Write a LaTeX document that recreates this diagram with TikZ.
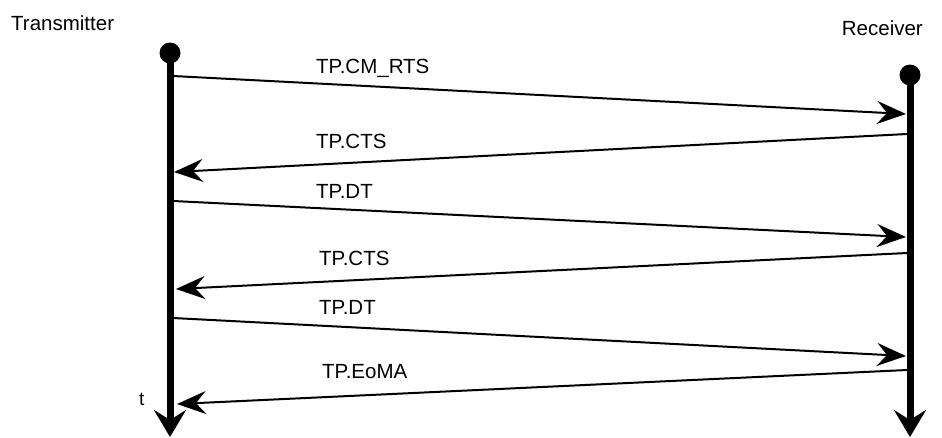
\documentclass[tikz,border=0pt]{standalone}
\usepackage{fontspec}
\setmainfont{Liberation Sans}
\usetikzlibrary{arrows.meta}
\begin{document}
\begin{tikzpicture}[x=1pt,y=-1pt,
  lifeline/.style={line width=7pt,-{Stealth[length=27pt,width=32pt,inset=10pt]}},
  msg/.style={line width=2pt,-{Stealth[length=29pt,width=23pt,inset=10pt]}},
  lbl/.style={anchor=base west,inner sep=0pt,font=\fontsize{20.5}{24}\selectfont},
  dot/.style={circle,fill=black,minimum size=21pt,inner sep=0pt}]
  \fill[white] (0,0) rectangle (942,437);
  \useasboundingbox (0,0) rectangle (942,437);

  % participants
  \node[lbl] (tx) at (11,30) {Transmitter};
  \node[lbl,anchor=base east] (rx) at (923,35) {Receiver};

  % lifelines
  \node[dot] (tdot) at (170,53) {};
  \node[dot] (rdot) at (910,75) {};
  \coordinate (tend) at (170,437);
  \coordinate (rend) at (910,437);
  \draw[lifeline] (tdot.center) -- (tend);
  \draw[lifeline] (rdot.center) -- (rend);
  \node[lbl,font=\fontsize{19}{22}\selectfont] (t) at (139,405) {t};

  % message end points on the lifelines
  \coordinate (l1) at (173,76);  \coordinate (r1) at (906,114);
  \coordinate (r2) at (907,134); \coordinate (l2) at (174,172);
  \coordinate (l3) at (173,201); \coordinate (r3) at (906,237);
  \coordinate (r4) at (907,253); \coordinate (l4) at (176,289);
  \coordinate (l5) at (173,318); \coordinate (r5) at (906,356);
  \coordinate (r6) at (907,370); \coordinate (l6) at (177,404);

  % messages
  \draw[msg] (l1) -- (r1);
  \draw[msg] (r2) -- (l2);
  \draw[msg] (l3) -- (r3);
  \draw[msg] (r4) -- (l4);
  \draw[msg] (l5) -- (r5);
  \draw[msg] (r6) -- (l6);

  % message labels
  \node[lbl] (m1) at (316,73)  {TP.CM\_RTS};
  \node[lbl] (m2) at (316,148) {TP.CTS};
  \node[lbl] (m3) at (316,198) {TP.DT};
  \node[lbl] (m4) at (319,265) {TP.CTS};
  \node[lbl] (m5) at (319,314) {TP.DT};
  \node[lbl] (m6) at (322,378) {TP.EoMA};
\end{tikzpicture}
\end{document}
